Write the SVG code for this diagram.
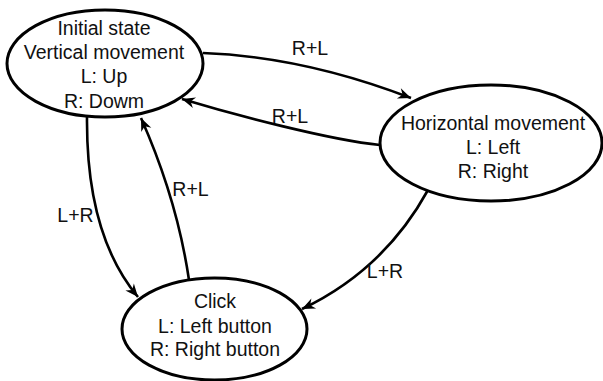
<svg xmlns="http://www.w3.org/2000/svg" width="603" height="381" viewBox="0 0 603 381">
<defs>
<style>
.node ellipse{fill:#fff;stroke:#000;stroke-width:3}
text{font-family:"Liberation Sans",Arial,sans-serif;font-size:19.5px;fill:#111;text-anchor:middle}
.edge{fill:none;stroke:#000;stroke-width:2.6}
</style>
<marker id="arr" markerUnits="userSpaceOnUse" markerWidth="20" markerHeight="20" refX="14" refY="7" orient="auto" viewBox="0 0 20 14">
<path d="M14,7 L1,1.5 L5,7 L1,12.5 Z" fill="#000"/>
</marker>
</defs>
<rect width="603" height="381" fill="#fff"/>
<g id="connectors">
<path class="edge" d="M203,53 Q303,56.5 411,98" marker-end="url(#arr)"/>
<path class="edge" d="M380,145 C330,140 235,115 182,99" marker-end="url(#arr)"/>
<path class="edge" d="M87,117 Q86,235 138,297" marker-end="url(#arr)"/>
<path class="edge" d="M189,280 Q177,199 141,118" marker-end="url(#arr)"/>
<path class="edge" d="M428,190 Q384,270 302,309" marker-end="url(#arr)"/>
<text x="310" y="55">R+L</text>
<text x="290" y="123">R+L</text>
<text x="75.5" y="222">L+R</text>
<text x="190.5" y="196">R+L</text>
<text x="385" y="278">L+R</text>
</g>
<g id="initial" class="node">
<ellipse cx="105" cy="63.5" rx="98" ry="53.5"/>
<text x="104" y="35">Initial state</text>
<text x="104" y="59">Vertical movement</text>
<text x="104" y="83">L: Up</text>
<text x="104" y="108">R: Dowm</text>
</g>
<g id="horizontal" class="node">
<ellipse cx="491" cy="143" rx="111" ry="58"/>
<text x="493" y="130">Horizontal movement</text>
<text x="493" y="154">L: Left</text>
<text x="493" y="178">R: Right</text>
</g>
<g id="click" class="node">
<ellipse cx="214.5" cy="329" rx="92.5" ry="51"/>
<text x="215" y="308">Click</text>
<text x="215" y="333">L: Left button</text>
<text x="215" y="356">R: Right button</text>
</g>
</svg>
